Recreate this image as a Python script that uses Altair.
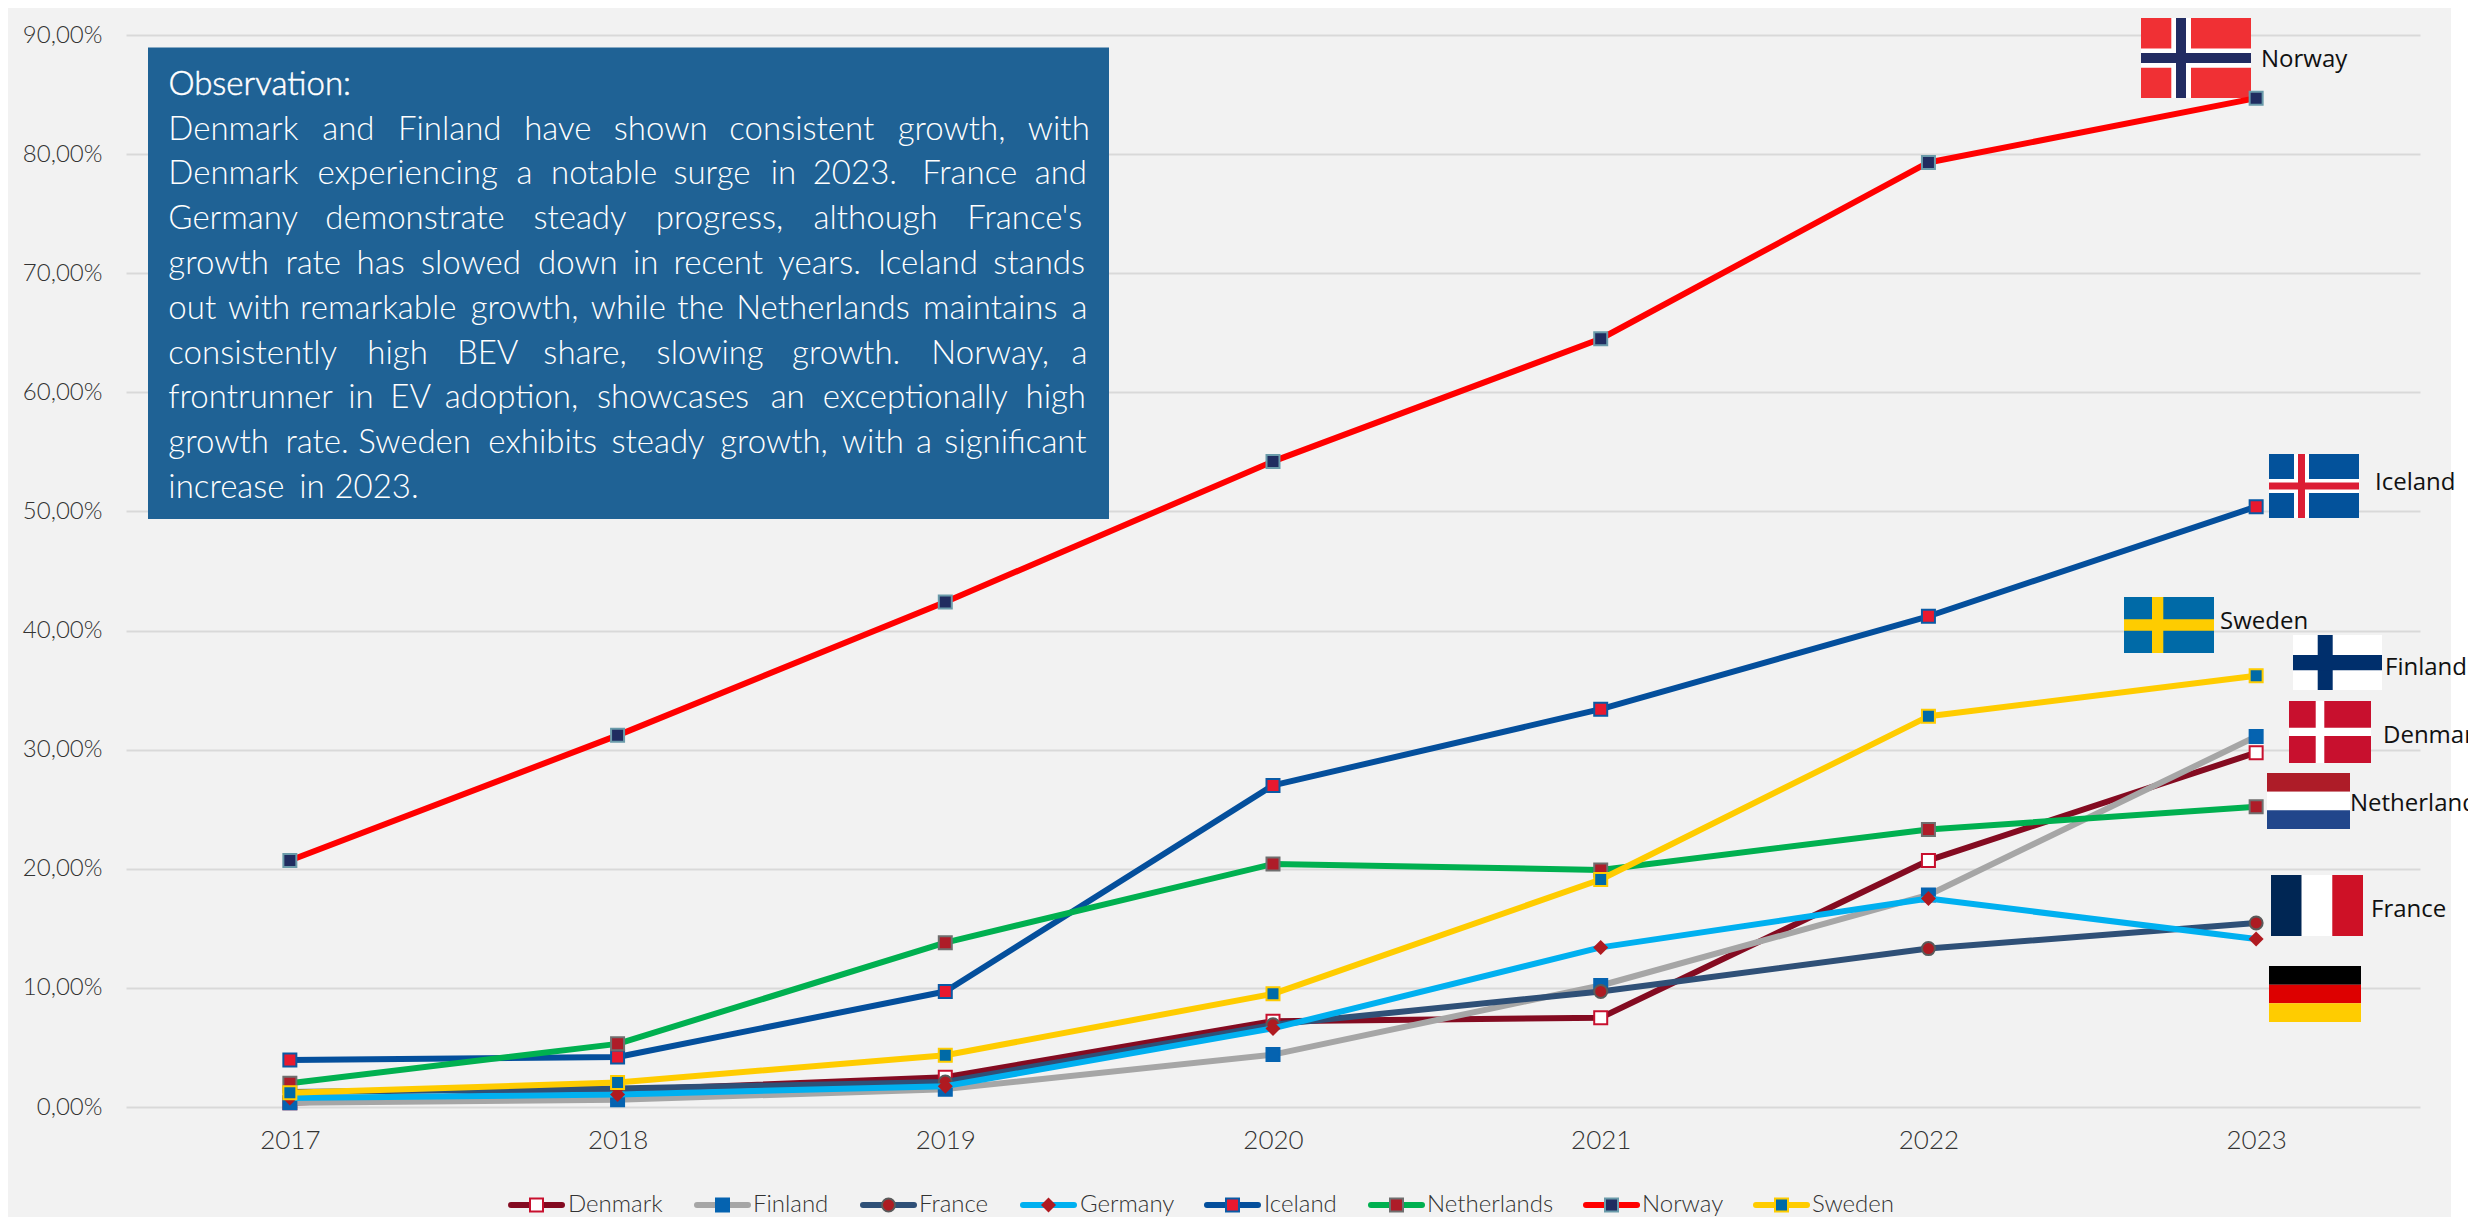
import altair as alt
import pandas as pd

years = ["2017", "2018", "2019", "2020", "2021", "2022", "2023"]
denmark = [0.35, 1.4, 2.5, 7.2, 7.5, 20.7, 29.75]
finland = [0.35, 0.6, 1.5, 4.4, 10.2, 17.8, 31.1]
france = [1.25, 1.55, 2.1, 6.9, 9.7, 13.3, 15.45]
germany = [0.75, 1.05, 1.75, 6.6, 13.4, 17.5, 14.1]
iceland = [3.95, 4.2, 9.7, 27.0, 33.4, 41.2, 50.4]
netherlands = [2.0, 5.3, 13.8, 20.4, 19.9, 23.3, 25.2]
norway = [20.7, 31.2, 42.4, 54.2, 64.5, 79.3, 84.7]
sweden = [1.2, 2.05, 4.35, 9.5, 19.1, 32.8, 36.2]

series = [
    ("Denmark", denmark, "#840B21", "square", "#FFFFFF", "#C8102E", 508, 568),
    ("Finland", finland, "#A6A6A6", "square", "#0563B0", "#0563B0", 694, 753),
    ("France", france, "#2F5077", "circle", "#AD1B22", "#5A5A5A", 860, 919),
    ("Germany", germany, "#00B0F0", "diamond", "#B01A20", "#B01A20", 1020, 1080),
    ("Iceland", iceland, "#044F9C", "square", "#E8192F", "#0A5AA5", 1204, 1264),
    ("Netherlands", netherlands, "#00B050", "square", "#AE1C28", "#6F6F6F", 1368, 1427),
    ("Norway", norway, "#FF0000", "square", "#202C60", "#6A9BAA", 1583, 1642),
    ("Sweden", sweden, "#FFCC00", "square", "#006AA7", "#FECC00", 1753, 1812),
]

obs_title = "Observation:"
obs_lines = [
    "Denmark and Finland have shown consistent growth, with",
    "Denmark experiencing a notable surge in 2023. France and",
    "Germany demonstrate steady progress, although France's",
    "growth rate has slowed down in recent years. Iceland stands",
    "out with remarkable growth, while the Netherlands maintains a",
    "consistently high BEV share, slowing growth. Norway, a",
    "frontrunner in EV adoption, showcases an exceptionally high",
    "growth rate. Sweden exhibits steady growth, with a significant",
    "increase in 2023.",
]
word_starts = [
    [220, 421, 520, 685, 802, 953, 1173, 1343],
    [220, 415, 675, 720, 880, 1007, 1062, 1205, 1352],
    [220, 425, 697, 857, 1063, 1264],
    [220, 373, 466, 550, 703, 827, 880, 1017, 1147, 1298],
    [220, 298, 392, 615, 772, 885, 962, 1206, 1400],
    [220, 480, 597, 710, 858, 1035, 1217, 1400],
    [220, 455, 510, 581, 780, 1007, 1075, 1340],
    [220, 373, 468, 638, 799, 941, 1100, 1197, 1234],
    [220, 391, 437],
]

# Page coordinates -> plot coordinates
OX, OY = 126, 35
PW, PH = 2294, 1072


def rect(x0, x1, y0, y1, c):
    return {"x": x0 - OX, "x2": x1 - OX, "y": y0 - OY, "y2": y1 - OY, "c": c}


decor = [
    rect(2451, 2476, 0, 1225, "#FFFFFF"),
    # Text box
    rect(148, 1109, 47.5, 519, "#1F6295"),
    # Norway
    rect(2141, 2251, 18, 98, "#F03034"),
    rect(2171.3, 2191, 18, 98, "#FFFFFF"),
    rect(2141, 2251, 48.6, 67.7, "#FFFFFF"),
    rect(2176, 2186, 18, 98, "#222C62"),
    rect(2141, 2251, 53, 63, "#222C62"),
    # Iceland
    rect(2269, 2359, 454, 518, "#03529B"),
    rect(2294, 2309, 454, 518, "#FFFFFF"),
    rect(2269, 2359, 479, 493, "#FFFFFF"),
    rect(2298, 2305, 454, 518, "#DC1E35"),
    rect(2269, 2359, 482.6, 489.5, "#DC1E35"),
    # Sweden
    rect(2124, 2214, 597, 653, "#006AA7"),
    rect(2152, 2163.3, 597, 653, "#FECC00"),
    rect(2124, 2214, 619.3, 630.7, "#FECC00"),
    # Finland
    rect(2293, 2382, 635, 690, "#FFFFFF"),
    rect(2317.7, 2332.7, 635, 690, "#002F6C"),
    rect(2293, 2382, 655, 670.3, "#002F6C"),
    # Denmark
    rect(2289, 2371, 701, 763, "#C8102E"),
    rect(2315.7, 2324.3, 701, 763, "#FFFFFF"),
    rect(2289, 2371, 727.7, 736, "#FFFFFF"),
    # Netherlands
    rect(2267, 2350, 773, 791.7, "#AE1C28"),
    rect(2267, 2350, 791.7, 810.3, "#FFFFFF"),
    rect(2267, 2350, 810.3, 829, "#21468B"),
    # France
    rect(2271, 2301.7, 875, 936, "#002654"),
    rect(2301.7, 2332.3, 875, 936, "#FFFFFF"),
    rect(2332.3, 2363, 875, 936, "#CE1126"),
    # Germany
    rect(2269, 2361, 966, 984.7, "#000000"),
    rect(2269, 2361, 984.7, 1003.3, "#DD0000"),
    rect(2269, 2361, 1003.3, 1022, "#FFCC00"),
]

flag_labels = [
    ("Norway", 2261, 60),
    ("Iceland", 2375, 483),
    ("Sweden", 2220, 622),
    ("Finland", 2385, 668),
    ("Denmark", 2383, 736),
    ("Netherlands", 2350, 804),
    ("France", 2371, 910),
]

words = []
for i, (line, starts) in enumerate(zip(obs_lines, word_starts)):
    for w, s in zip(line.split(" "), starts):
        words.append({"t": w, "x": s / 1.3067 - OX, "y": 129.6 + 44.8 * i - OY})

LIGHT = "Lato"
one = pd.DataFrame({"a": [0]})

base_x = alt.X(
    "year:N",
    sort=years,
    title=None,
    scale=alt.Scale(type="point", padding=0.5, domain=years),
    axis=alt.Axis(labelAngle=0, labelFont=LIGHT, labelFontWeight=300, labelFontSize=26,
                  labelColor="#333333", labelPadding=20, ticks=False, domain=False, grid=False),
)
base_y = alt.Y(
    "v:Q",
    title=None,
    scale=alt.Scale(domain=[0, 90], nice=False),
    axis=alt.Axis(values=list(range(0, 100, 10)), grid=True, gridColor="#D9D9D9", gridWidth=2,
                  ticks=False, domain=False, labelFont=LIGHT, labelFontWeight=300, labelFontSize=24,
                  labelColor="#333333", labelPadding=24,
                  labelExpr="replace(format(datum.value,'.2f'),'.',',')+'%'"),
)

decor_layer = alt.Chart(pd.DataFrame(decor)).mark_rect().encode(
    x=alt.X("x:Q", scale=None), x2="x2:Q",
    y=alt.Y("y:Q", scale=None), y2="y2:Q",
    color=alt.Color("c:N", scale=None),
)

series_layers = []
for name, vals, line_c, shape, fill, stroke, _, _ in series:
    df = pd.DataFrame({"year": years, "v": vals})
    series_layers.append(
        alt.Chart(df).mark_line(color=line_c, strokeWidth=6, strokeCap="round", strokeJoin="round")
        .encode(x=base_x, y=base_y)
    )
    sw = 0 if shape == "diamond" else 2
    sz = 225 if shape == "diamond" else 169
    series_layers.append(
        alt.Chart(df).mark_point(shape=shape, filled=True, fill=fill, stroke=stroke, strokeWidth=sw,
                                 size=sz, opacity=1)
        .encode(x=base_x, y=base_y)
    )

word_layer = alt.Chart(pd.DataFrame(words)).mark_text(
    font=LIGHT, fontWeight=300, fontSize=33, color="#FFFFFF", align="left", baseline="middle"
).encode(x=alt.X("x:Q", scale=None), y=alt.Y("y:Q", scale=None), text="t:N")

title_layer = alt.Chart(one).mark_text(
    font=LIGHT, fontWeight=300, fontSize=33, color="#FFFFFF", stroke="#FFFFFF", strokeWidth=0.5,
    align="left", baseline="middle"
).encode(x=alt.value(168.4 - OX), y=alt.value(85 - OY), text=alt.value(obs_title))

label_df = pd.DataFrame([{"t": t, "x": x - OX, "y": y - OY} for t, x, y in flag_labels])
label_layer = alt.Chart(label_df).mark_text(
    font="Open Sans", fontSize=24, color="#111111", align="left", baseline="middle"
).encode(x=alt.X("x:Q", scale=None), y=alt.Y("y:Q", scale=None), text="t:N")

LEG_Y = 1205 - OY
legend_layers = []
for name, vals, line_c, shape, fill, stroke, kx, tx in series:
    legend_layers.append(
        alt.Chart(one).mark_rule(color=line_c, strokeWidth=6, strokeCap="round").encode(
            x=alt.value(kx - OX + 3), x2=alt.value(kx - OX + 54), y=alt.value(LEG_Y))
    )
    sw = 0 if shape == "diamond" else 2
    sz = 225 if shape == "diamond" else 169
    legend_layers.append(
        alt.Chart(one).mark_point(shape=shape, filled=True, fill=fill, stroke=stroke, strokeWidth=sw,
                                  size=sz, opacity=1).encode(
            x=alt.value(kx - OX + 28.5), y=alt.value(LEG_Y))
    )
    legend_layers.append(
        alt.Chart(one).mark_text(font=LIGHT, fontWeight=300, fontSize=24, color="#333333",
                                 align="left", baseline="middle").encode(
            x=alt.value(tx - OX), y=alt.value(LEG_Y), text=alt.value(name))
    )

chart = alt.layer(
    *series_layers[:1], decor_layer, *series_layers[1:], word_layer, title_layer, label_layer, *legend_layers
).properties(
    width=PW,
    height=PH,
    background="#F2F2F2",
    autosize=alt.AutoSizeParams(type="none"),
    # The page has an 8px margin on every side: the svg must end at 2468 x 1217.
    padding={"left": OX - 8, "top": OY - 8, "right": 2468 - OX - PW, "bottom": 1217 - OY - PH},
).configure_view(stroke=None)

chart.save("out.html", embed_options={"renderer": "svg", "actions": False})
